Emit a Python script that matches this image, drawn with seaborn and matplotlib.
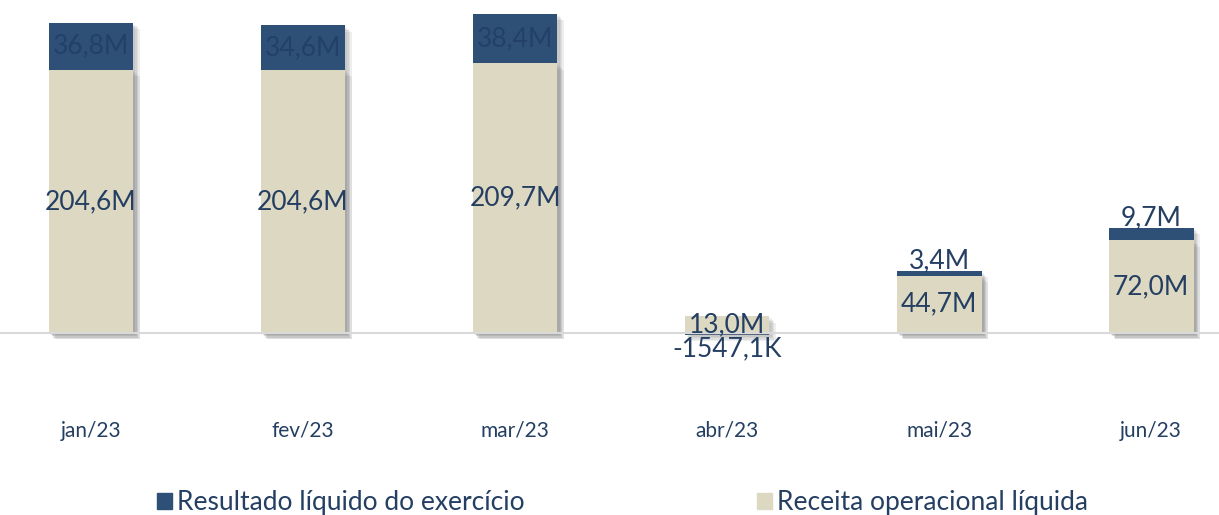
import matplotlib
matplotlib.use("Agg")
import matplotlib.pyplot as plt
import matplotlib.patches as mpatches
import matplotlib.patheffects as pe
import seaborn as sns
import numpy as np

# ----------------------------
# Data (milhões de R$)
# ----------------------------
meses = ["jan/23", "fev/23", "mar/23", "abr/23", "mai/23", "jun/23"]
receita = [204.6, 204.6, 209.7, 13.0, 44.7, 72.0]
resultado = [36.8, 34.6, 38.4, -1.5471, 3.4, 9.7]
rotulos_receita = ["204,6M", "204,6M", "209,7M", "13,0M", "44,7M", "72,0M"]
rotulos_resultado = ["36,8M", "34,6M", "38,4M", "-1547,1K", "3,4M", "9,7M"]

NAVY = "#2E5077"
BEIGE = "#DDD8C2"
TXT = "#243F62"
AXIS = "#D9D9D9"

sns.set_style("white")
plt.rcParams["font.family"] = ["Lato", "DejaVu Sans"]

fig = plt.figure(figsize=(12.19, 5.15), dpi=100)
ax = fig.add_axes([0, 115 / 515, 1, 400 / 515])

# navy bar drawn to the stacked top (or its own negative value), beige on top of it
topo = [r + v if v >= 0 else v for r, v in zip(receita, resultado)]
# soft drop shadow: a few stacked light shadows
shadow = [pe.SimplePatchShadow(offset=(o, -o), shadow_rgbFace="#808080", alpha=0.13)
          for o in (1.5, 2.5, 3.5, 4.5)] + [pe.Normal()]

sns.barplot(x=meses, y=topo, color=NAVY, width=0.4, saturation=1, ax=ax)
sns.barplot(x=meses, y=receita, color=BEIGE, width=0.4, saturation=1, ax=ax)
for p in ax.patches:
    p.set_path_effects(shadow)
    p.set_linewidth(0)

# data labels
for i in range(len(meses)):
    r, v = receita[i], resultado[i]
    ax.text(i, r / 2, rotulos_receita[i], ha="center", va="center",
            fontsize=19, color=TXT)
    if v < 0:
        ax.text(i, v - 1, rotulos_resultado[i], ha="center", va="top",
                fontsize=19, color=TXT)
    elif v < 15:
        ax.text(i, r + v - 1.5, rotulos_resultado[i], ha="center", va="bottom",
                fontsize=19, color=TXT)
    else:
        ax.text(i, r + v / 2, rotulos_resultado[i], ha="center", va="center",
                fontsize=19, color="#22406A")

ax.set_xlim(-0.429, 5.32)
ax.set_ylim(-52.1, 259)
ax.set_ylabel("")
ax.set_yticks([])
for s in ["top", "left", "right"]:
    ax.spines[s].set_visible(False)
ax.spines["bottom"].set_position(("data", 0))
ax.spines["bottom"].set_color(AXIS)
ax.spines["bottom"].set_linewidth(1.5)

ax.set_xticks(range(len(meses)))
ax.set_xticklabels(meses, fontsize=15, color=TXT)
ax.set_xticks(np.arange(0.5, len(meses) - 0.5, 1), minor=True)
ax.tick_params(axis="x", which="major", length=0, pad=63)
ax.tick_params(axis="x", which="minor", length=5, width=1.5, color=AXIS, direction="out")

# legend: two entries placed at their own positions
entradas = [(NAVY, "Resultado líquido do exercício", 157),
            (BEIGE, "Receita operacional líquida", 757)]
for cor, nome, xpix in entradas:
    leg = fig.legend(handles=[mpatches.Patch(color=cor, label=nome)], loc="center left",
                     bbox_to_anchor=(xpix / 1219, 0.024), frameon=False, fontsize=19,
                     labelcolor=TXT, handlelength=0.57, handleheight=0.57,
                     handletextpad=0.2, borderpad=0, borderaxespad=0)

fig.savefig("out.png", dpi=100)
